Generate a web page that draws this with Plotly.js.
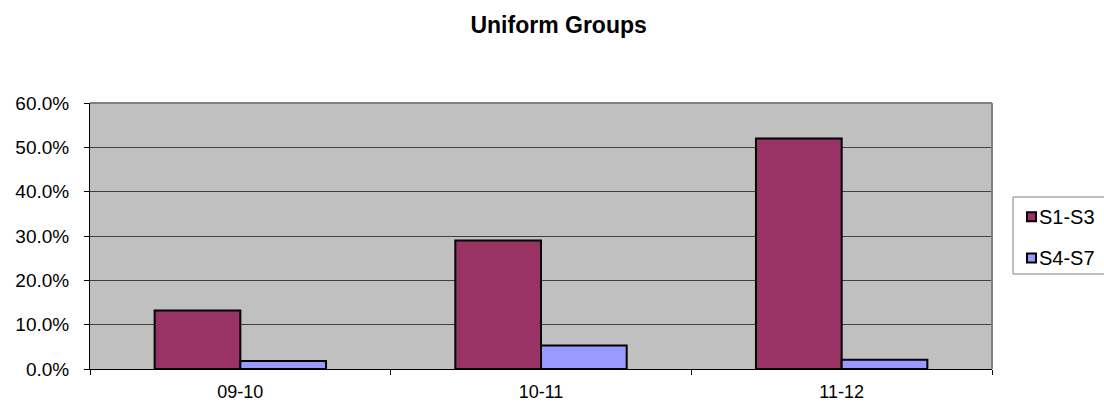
<!DOCTYPE html>
<html>
<head>
<meta charset="utf-8">
<script src="https://cdn.plot.ly/plotly-3.0.1.min.js"></script>
<style>html,body{margin:0;padding:0;background:#fff;}#chart{width:1104px;height:403px;}</style>
</head>
<body>
<div id="chart"></div>
<script>
const categories = ["09-10", "10-11", "11-12"];
const seriesNames = ["S1-S3", "S4-S7"];
const s1s3 = [0.132, 0.290, 0.520];
const s4s7 = [0.018, 0.053, 0.021];
const seriesColors = ["#993366", "#9999FF"];
const yTickVals = [0, 0.1, 0.2, 0.3, 0.4, 0.5, 0.6];
const yTickText = ["0.0%", "10.0%", "20.0%", "30.0%", "40.0%", "50.0%", "60.0%"];

const FONT = "Liberation Sans, Arial, sans-serif";

const traces = [
  {type: "bar", name: seriesNames[0], x: categories, y: s1s3,
   marker: {color: seriesColors[0], line: {color: "#000000", width: 2}}},
  {type: "bar", name: seriesNames[1], x: categories, y: s4s7,
   marker: {color: seriesColors[1], line: {color: "#000000", width: 2}}}
];

// legend drawn in paper coordinates (box, swatches, labels)
const legendItemsY = [0.5726, 0.4173];
const shapes = [
  {type: "line", xref: "paper", yref: "paper", x0: 0, x1: 1, y0: 1, y1: 1,
   line: {color: "#808080", width: 2}},
  {type: "line", xref: "paper", yref: "paper", x0: 1, x1: 1, y0: 0, y1: 1,
   line: {color: "#808080", width: 2}},
  {type: "rect", xref: "paper", yref: "paper", x0: 1.0233, x1: 1.14, y0: 0.357, y1: 0.6466,
   line: {color: "#808080", width: 1}, fillcolor: "#ffffff", layer: "below"}
];
const annotations = [];
seriesNames.forEach((nm, i) => {
  const yc = legendItemsY[i];
  const half = 4.5 / 266;
  shapes.push({type: "rect", xref: "paper", yref: "paper",
    x0: 1.0388, x1: 1.0488, y0: yc - half, y1: yc + half,
    line: {color: "#000000", width: 2}, fillcolor: seriesColors[i]});
  annotations.push({xref: "paper", yref: "paper", x: 1.0495, y: yc,
    xanchor: "left", yanchor: "middle", showarrow: false, text: nm,
    font: {family: FONT, size: 20, color: "#000"}});
});

const layout = {
  width: 1104, height: 403,
  margin: {l: 90, r: 112, t: 103, b: 34, autoexpand: false},
  paper_bgcolor: "#ffffff",
  plot_bgcolor: "#C0C0C0",
  font: {family: FONT, color: "#000000", size: 19},
  title: {text: "<b>Uniform Groups</b>", font: {family: FONT, size: 23, color: "#000"},
          x: 0.506, xanchor: "center", y: 0.938, yanchor: "middle"},
  barmode: "group",
  bargap: 0.43,
  bargroupgap: 0,
  showlegend: false,
  xaxis: {type: "category", showgrid: false, showline: true, linecolor: "#000", linewidth: 1,
          ticks: "outside", tickson: "boundaries", ticklen: 5, tickcolor: "#000",
          ticklabelstandoff: 6, tickfont: {family: FONT, size: 18}, fixedrange: true},
  yaxis: {range: [0, 0.6], tickvals: yTickVals, ticktext: yTickText,
          showgrid: true, gridcolor: "#404040", gridwidth: 1, zeroline: false,
          showline: true, linecolor: "#000", linewidth: 1,
          ticks: "outside", ticklen: 5, tickcolor: "#000",
          ticklabelstandoff: 11, tickfont: {family: FONT, size: 19}, fixedrange: true},
  shapes: shapes,
  annotations: annotations
};

Plotly.newPlot("chart", traces, layout, {displayModeBar: false, staticPlot: true});
</script>
</body>
</html>
